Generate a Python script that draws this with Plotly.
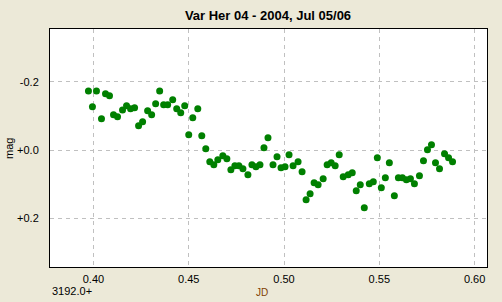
import plotly.graph_objects as go

jd = [0.39737, 0.39947, 0.40158, 0.40421, 0.40632, 0.40842, 0.41053, 0.41263, 0.41526, 0.41737,
      0.41947, 0.42158, 0.42368, 0.42579, 0.42842, 0.43053, 0.43263, 0.43474, 0.43684, 0.43895,
      0.44158, 0.44368, 0.44579, 0.44789, 0.45000, 0.45211, 0.45474, 0.45684, 0.45895, 0.46105,
      0.46316, 0.46526, 0.46789, 0.47000, 0.47211, 0.47421, 0.47632, 0.47842, 0.48105, 0.48316,
      0.48526, 0.48737, 0.48947, 0.49158, 0.49421, 0.49632, 0.49842, 0.50053, 0.50263, 0.50474,
      0.50737, 0.50947, 0.51158, 0.51368, 0.51579, 0.51789, 0.52053, 0.52263, 0.52474, 0.52684,
      0.52895, 0.53105, 0.53368, 0.53579, 0.53789, 0.54000, 0.54211, 0.54474, 0.54684, 0.54895,
      0.55105, 0.55316, 0.55526, 0.55789, 0.56000, 0.56211, 0.56421, 0.56632, 0.56842, 0.57105,
      0.57316, 0.57526, 0.57737, 0.57947, 0.58158, 0.58421, 0.58632, 0.58842]
mag = [-0.1727, -0.1267, -0.1727, -0.0916, -0.1648, -0.1589, -0.1033, -0.0975, -0.1171, -0.1296,
       -0.1209, -0.1238, -0.0711, -0.0828, -0.1150, -0.1033, -0.1355, -0.1727, -0.1326, -0.1326,
       -0.1472, -0.1209, -0.1092, -0.1296, -0.0448, -0.0945, -0.1209, -0.0418, -0.0038, 0.0342,
       0.0430, 0.0284, 0.0167, 0.0255, 0.0577, 0.0459, 0.0459, 0.0547, 0.0723, 0.0430,
       0.0489, 0.0430, -0.0067, -0.0360, 0.0430, 0.0196, 0.0518, 0.0489, 0.0138, 0.0459,
       0.0342, 0.0635, 0.1454, 0.1279, 0.0957, 0.1016, 0.0840, 0.0430, 0.0372, 0.0459,
       0.0138, 0.0781, 0.0723, 0.0664, 0.1191, 0.1016, 0.1689, 0.0986, 0.0928, 0.0225,
       0.1103, 0.0811, 0.0372, 0.1337, 0.0811, 0.0811, 0.0869, 0.0840, 0.0986, 0.0752,
       0.0313, -0.0009, -0.0155, 0.0372, 0.0547, 0.0108, 0.0225, 0.0342]

x_ticks = [0.40, 0.45, 0.50, 0.55, 0.60]
x_tick_labels = ["0.40", "0.45", "0.50", "0.55", "0.60"]
y_ticks = [-0.2, 0.0, 0.2]
y_tick_labels = ["-0.2", "+0.0", "+0.2"]

FONT = "Liberation Sans, Arial, sans-serif"

fig = go.Figure()
fig.add_trace(go.Scatter(x=jd, y=mag, mode="markers",
                         marker=dict(size=7, color="#008000", line=dict(width=0)),
                         hoverinfo="skip"))

fig.update_layout(
    width=502, height=302,
    margin=dict(l=50, r=15, t=29, b=35),
    paper_bgcolor="#ECE9D8", plot_bgcolor="#FFFFFF",
    showlegend=False,
    title=dict(text="<b>Var Her 04 - 2004, Jul 05/06</b>", x=268 / 502, xanchor="center",
               y=1 - 15 / 302, yanchor="middle",
               font=dict(family=FONT, size=13, color="#000000")),
    xaxis=dict(range=[0.3772, 0.6065], tickvals=x_ticks, ticktext=x_tick_labels,
               showgrid=True, gridcolor="#C0C0C0", griddash="4px,4px", gridwidth=1,
               showline=True, linecolor="#000000", linewidth=1, mirror=True,
               ticks="outside", ticklen=2, tickcolor="rgba(0,0,0,0)",
               zeroline=False, tickfont=dict(family=FONT, size=11, color="#000000")),
    yaxis=dict(range=[0.342, -0.354], tickvals=y_ticks, ticktext=y_tick_labels,
               showgrid=True, gridcolor="#C0C0C0", griddash="4px,4px", gridwidth=1,
               showline=True, linecolor="#000000", linewidth=1, mirror=True,
               ticks="outside", ticklen=8, tickcolor="rgba(0,0,0,0)",
               zeroline=False, tickfont=dict(family=FONT, size=11, color="#000000")),
    annotations=[
        dict(text="3192.0+", xref="paper", yref="paper", x=0.0, y=-24 / 238,
             xanchor="left", yanchor="middle", showarrow=False,
             font=dict(family=FONT, size=11, color="#000000")),
        dict(text="JD", xref="paper", yref="paper", x=(262 - 50) / 436.7, y=-25 / 238,
             xanchor="center", yanchor="middle", showarrow=False,
             font=dict(family=FONT, size=10, color="#804000")),
        dict(text="mag", xref="paper", yref="paper", x=-41 / 436.7, y=(267 - 148) / 238,
             xanchor="center", yanchor="middle", showarrow=False, textangle=-90,
             font=dict(family=FONT, size=11, color="#000000")),
    ],
)

fig.write_html("out.html")
